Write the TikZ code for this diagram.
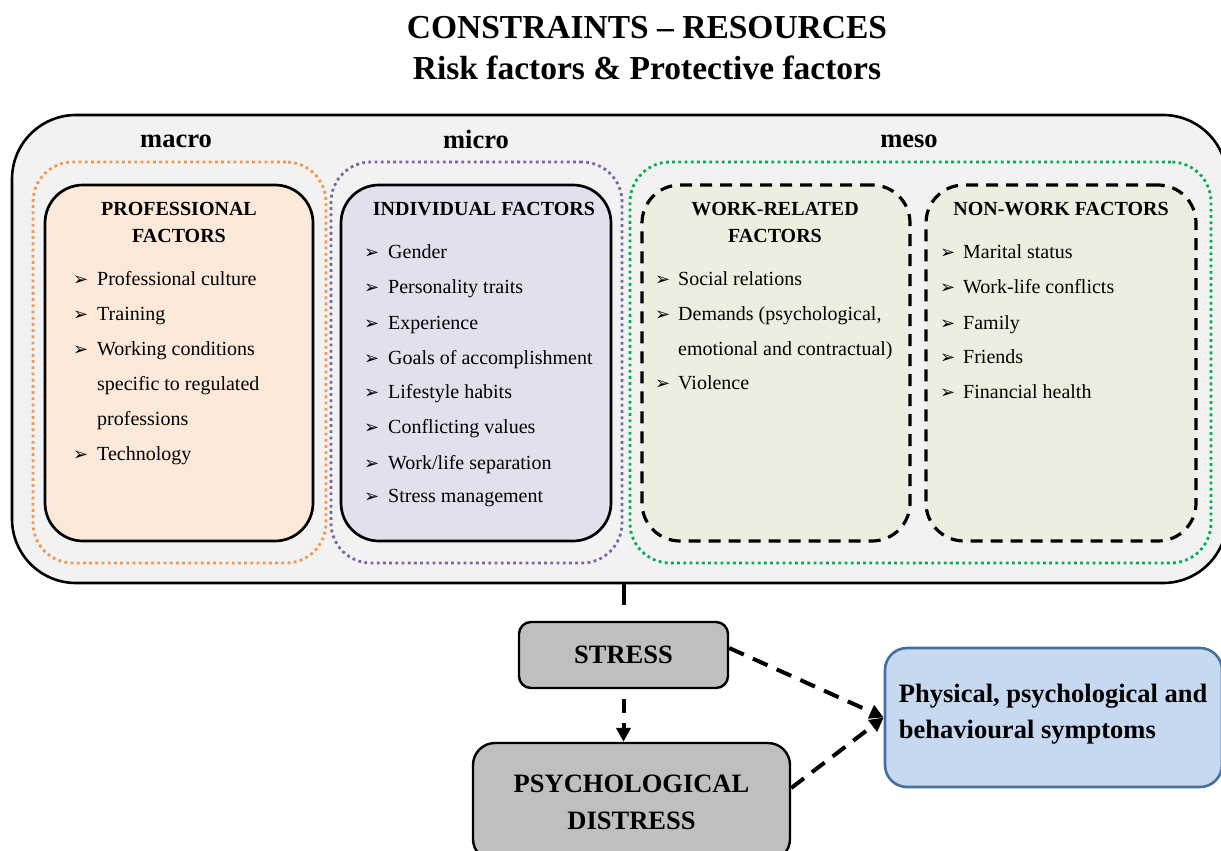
\documentclass[tikz,border=0pt]{standalone}
\usepackage{fontspec}
\setmainfont{Liberation Serif}
\newfontfamily\dejavu{DejaVu Sans}
\usetikzlibrary{arrows.meta}
\definecolor{outerfill}{HTML}{F2F2F2}
\definecolor{peach}{HTML}{FCE9DA}
\definecolor{lavender}{HTML}{E4DFEC}
\definecolor{sage}{HTML}{EBEFDF}
\definecolor{dotorange}{HTML}{F79646}
\definecolor{dotpurple}{HTML}{8064A2}
\definecolor{dotgreen}{HTML}{00B050}
\definecolor{graybox}{HTML}{BFBFBF}
\definecolor{bluefill}{HTML}{C6D9F1}
\definecolor{blueline}{HTML}{41719C}
\begin{document}
\begin{tikzpicture}[x=1pt,y=-1pt,
  outerbox/.style={draw=black, line width=2.6pt, fill=outerfill, rounded corners=64pt, inner sep=0},
  dotbox/.style={line width=2.8pt, dash pattern=on 2.8pt off 3.4pt, rounded corners=40pt, inner sep=0},
  solidbox/.style={draw=black, line width=2.7pt, rounded corners=38pt, inner sep=0},
  dashbox/.style={draw=black, line width=3.2pt, dash pattern=on 12pt off 8pt, fill=sage, rounded corners=38pt, inner sep=0},
  graynode/.style={draw=black, line width=2.4pt, fill=graybox, inner sep=0, font=\bfseries\fontsize{26.5}{37}\selectfont, align=center},
  titletxt/.style={font=\bfseries\fontsize{33.5}{40}\selectfont, anchor=base, inner sep=0},
  lvl/.style={font=\bfseries\fontsize{26.5}{30}\selectfont, anchor=base, inner sep=0},
  hdr/.style={font=\bfseries\fontsize{20}{24}\selectfont, anchor=base, inner sep=0},
  itm/.style={font=\fontsize{20}{24}\selectfont, anchor=base west, inner sep=0},
  bul/.style={font=\dejavu\fontsize{18}{20}\selectfont, anchor=base west, inner sep=0},
  conn/.style={line width=4pt, dash pattern=on 16pt off 10pt},
  tip/.style={-{Triangle[length=14pt,width=14pt]}}
]
\useasboundingbox (0,0) rectangle (1221,851);
\clip (0,0) rectangle (1221,851);

% title
\node[titletxt] (t1) at (647,39) {CONSTRAINTS – RESOURCES};
\node[titletxt] (t2) at (647,79) {Risk factors \& Protective factors};

% outer container
\node[outerbox, minimum width=1215pt, minimum height=468pt] (outer) at (619.5,349) {};

% level labels
\node[lvl] (macro) at (176,147) {macro};
\node[lvl] (micro) at (476,148) {micro};
\node[lvl] (meso) at (909,147) {meso};

% dotted group boxes
\node[dotbox, draw=dotorange, minimum width=293pt, minimum height=401pt] (gmacro) at (179.5,362.5) {};
\node[dotbox, draw=dotpurple, minimum width=291pt, minimum height=401pt] (gmicro) at (476.5,362.5) {};
\node[dotbox, draw=dotgreen, minimum width=581pt, minimum height=401pt] (gmeso) at (920.5,362.5) {};

% factor boxes
\node[solidbox, fill=peach, minimum width=268pt, minimum height=356pt] (prof) at (179,363) {};
\node[solidbox, fill=lavender, minimum width=270pt, minimum height=356pt] (indiv) at (476,363) {};
\node[dashbox, minimum width=268pt, minimum height=356pt] (work) at (776,363) {};
\node[dashbox, minimum width=270pt, minimum height=356pt] (nonwork) at (1061,363) {};

% professional factors
\node[hdr] (ph1) at (179,215) {PROFESSIONAL};
\node[hdr] (ph2) at (179,242) {FACTORS};
\node[bul] (pb1) at (73,285) {➢}; \node[itm] (p1) at (97,285) {Professional culture};
\node[bul] (pb2) at (73,320) {➢}; \node[itm] (p2) at (97,320) {Training};
\node[bul] (pb3) at (73,355) {➢}; \node[itm] (p3) at (97,355) {Working conditions};
\node[itm] (p3b) at (97,390) {specific to regulated};
\node[itm] (p3c) at (97,425) {professions};
\node[bul] (pb4) at (73,460) {➢}; \node[itm] (p4) at (97,460) {Technology};

% individual factors
\node[hdr] (ih1) at (484,215) {INDIVIDUAL FACTORS};
\node[bul] (ib1) at (364,258) {➢}; \node[itm] (i1) at (388,258) {Gender};
\node[bul] (ib2) at (364,293) {➢}; \node[itm] (i2) at (388,293) {Personality traits};
\node[bul] (ib3) at (364,329) {➢}; \node[itm] (i3) at (388,329) {Experience};
\node[bul] (ib4) at (364,364) {➢}; \node[itm] (i4) at (388,364) {Goals of accomplishment};
\node[bul] (ib5) at (364,398) {➢}; \node[itm] (i5) at (388,398) {Lifestyle habits};
\node[bul] (ib6) at (364,433) {➢}; \node[itm] (i6) at (388,433) {Conflicting values};
\node[bul] (ib7) at (364,469) {➢}; \node[itm] (i7) at (388,469) {Work/life separation};
\node[bul] (ib8) at (364,502) {➢}; \node[itm] (i8) at (388,502) {Stress management};

% work-related factors
\node[hdr] (wh1) at (775,215) {WORK-RELATED};
\node[hdr] (wh2) at (775,242) {FACTORS};
\node[bul] (wb1) at (655,285) {➢}; \node[itm] (w1) at (678,285) {Social relations};
\node[bul] (wb2) at (655,320) {➢}; \node[itm] (w2) at (678,320) {Demands (psychological,};
\node[itm] (w2b) at (678,355) {emotional and contractual)};
\node[bul] (wb3) at (655,389) {➢}; \node[itm] (w3) at (678,389) {Violence};

% non-work factors
\node[hdr] (nh1) at (1061,215) {NON-WORK FACTORS};
\node[bul] (nb1) at (940,258) {➢}; \node[itm] (n1) at (963,258) {Marital status};
\node[bul] (nb2) at (940,293) {➢}; \node[itm] (n2) at (963,293) {Work-life conflicts};
\node[bul] (nb3) at (940,329) {➢}; \node[itm] (n3) at (963,329) {Family};
\node[bul] (nb4) at (940,363) {➢}; \node[itm] (n4) at (963,363) {Friends};
\node[bul] (nb5) at (940,398) {➢}; \node[itm] (n5) at (963,398) {Financial health};

% outcome nodes
\node[graynode, rounded corners=12pt, minimum width=209pt, minimum height=66pt] (stress) at (623.5,655) {STRESS};
\node[graynode, rounded corners=22pt, minimum width=317pt, minimum height=118pt] (distress) at (631.5,802) {PSYCHOLOGICAL\\DISTRESS};
\node[draw=blueline, line width=2.6pt, fill=bluefill, rounded corners=22pt, inner sep=0, minimum width=337pt, minimum height=139pt] (symptoms) at (1053.5,717.5) {};
\node[font=\bfseries\fontsize{26.5}{36}\selectfont, align=left, anchor=west, inner sep=0] (symtext) at ([xshift=15pt,yshift=3pt]symptoms.west) {Physical, psychological and\\behavioural symptoms};

% connectors
\draw[line width=4pt, dash pattern=on 21pt off 30pt] (stress.north |- outer.south) -- (stress.north);
\draw[conn, tip, dash pattern=on 14pt off 10pt, shorten <=10pt] (stress.south) -- (stress.south |- distress.north);
\draw[conn, tip] ([yshift=7pt]stress.east) -- (symptoms.west);
\draw[conn, tip] ([yshift=14pt]distress.east) -- (symptoms.west);
\end{tikzpicture}
\end{document}
